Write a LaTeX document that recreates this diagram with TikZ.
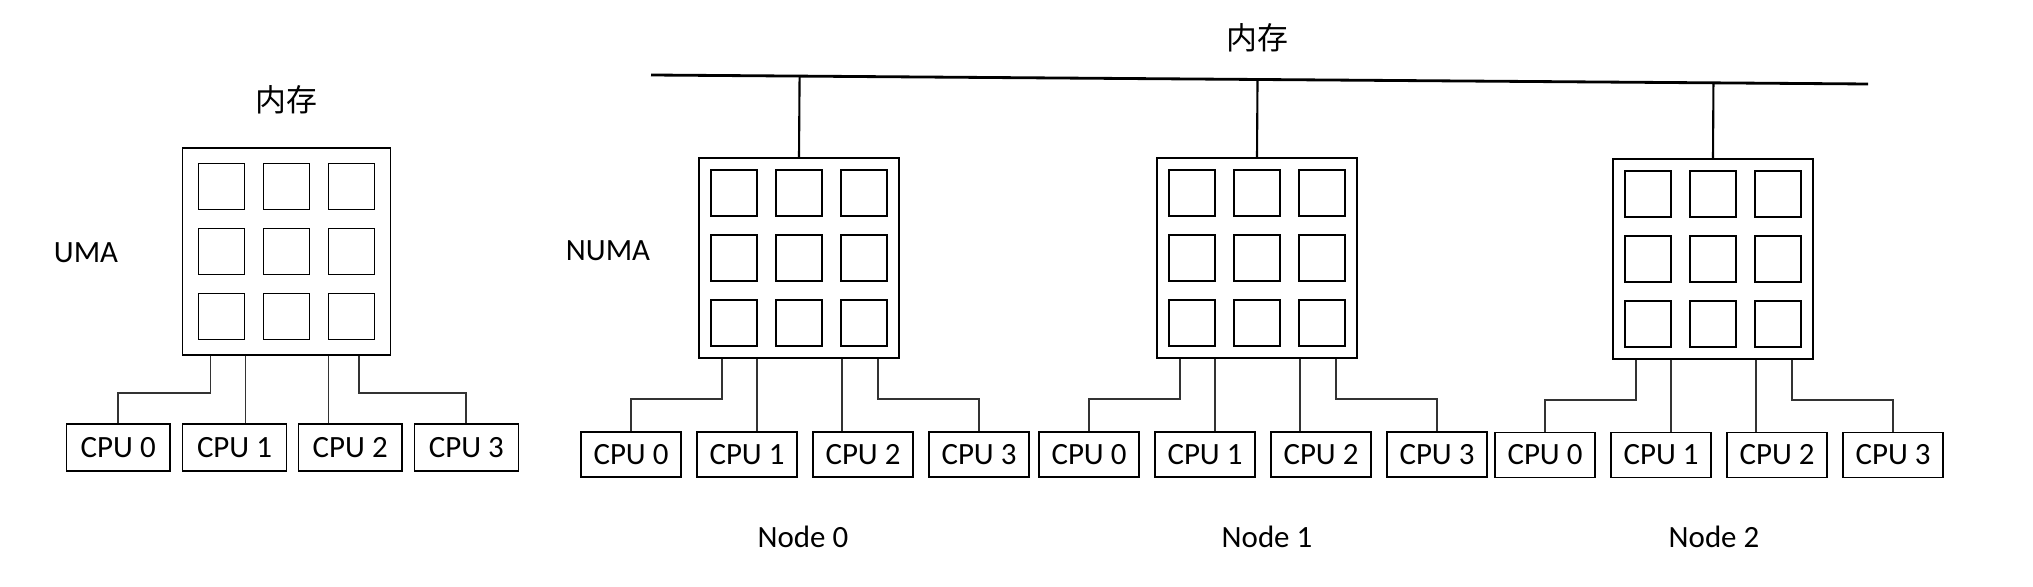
\documentclass[tikz,border=0pt]{standalone}
\usepackage{fontspec}
\setmainfont{Carlito}
\newfontfamily\cjkfont{Noto Sans CJK SC}
\usepackage{tikz}
\usetikzlibrary{calc}

\begin{document}
\begin{tikzpicture}[
  x=0.02cm, y=-0.02cm,
  font=\fontsize{17.6pt}{21pt}\selectfont,
  every node/.style={align=center},
  mem/.style={draw, minimum width=4cm, minimum height=4cm, inner sep=0pt, line width=0.8pt},
  cpu/.style={draw, minimum width=2cm, minimum height=0.9cm, inner sep=0pt, line width=0.8pt},
  cell/.style={draw, line width=0.8pt},
  link/.style={black!80, line width=1pt},
  drop/.style={black, line width=1.2pt},
  bus/.style={black, line width=1.6pt},
  zh/.style={font=\fontsize{17.6pt}{21pt}\selectfont\cjkfont},
]
\useasboundingbox (0,0) rectangle (2033,587);

%% --- Memory blocks ---
\node[mem, minimum width=4.16cm, minimum height=4.14cm] (uma) at (286.5,251.5) {};
\node[mem] (mem0) at ( 799,258) {};
\node[mem] (mem1) at (1257,258) {};
\node[mem] (mem2) at (1713,259) {};

%% --- 3x3 cells inside each block ---
\foreach \m in {uma, mem0, mem1, mem2}
  \foreach \i in {-1,0,1}
    \foreach \j in {-1,0,1}
      \draw[cell] ($(\m)+(\i*65-23,\j*65-23)$) rectangle ++(46,46);

%% --- UMA: CPUs ---
\node[cpu, minimum width=2.08cm, minimum height=0.94cm] (u0) at (118.2,447.5) {CPU 0};
\node[cpu, minimum width=2.08cm, minimum height=0.94cm] (u1) at (234.5,447.5) {CPU 1};
\node[cpu, minimum width=2.08cm, minimum height=0.94cm] (u2) at (350.2,447.5) {CPU 2};
\node[cpu, minimum width=2.08cm, minimum height=0.94cm] (u3) at (466.3,447.5) {CPU 3};

%% --- NUMA: CPUs of Node 0--2 ---
\node[cpu] (c00) at ( 631,454.5) {CPU 0};
\node[cpu] (c01) at ( 747,454.5) {CPU 1};
\node[cpu] (c02) at ( 863,454.5) {CPU 2};
\node[cpu] (c03) at ( 979,454.5) {CPU 3};
\node[cpu] (c10) at (1089,454.5) {CPU 0};
\node[cpu] (c11) at (1205,454.5) {CPU 1};
\node[cpu] (c12) at (1321,454.5) {CPU 2};
\node[cpu] (c13) at (1437,454.5) {CPU 3};
\node[cpu] (c20) at (1545,455) {CPU 0};
\node[cpu] (c21) at (1661,455) {CPU 1};
\node[cpu] (c22) at (1777,455) {CPU 2};
\node[cpu] (c23) at (1893,455) {CPU 3};

%% --- Links: memory -> CPUs ---
\draw[link] ($(uma.south)+(-76,0)$) -- ++(0,37) -| (u0.north);
\draw[link] ($(uma.south)+(-41,0)$) coordinate (k) -- (k |- u1.north);
\draw[link] ($(uma.south)+(42,0)$) coordinate (k) -- (k |- u2.north);
\draw[link] ($(uma.south)+(72.5,0)$) -- ++(0,37) -| (u3.north);

\foreach \n in {0,1,2} {
  \draw[link] ($(mem\n.south)+(-77,0)$) -- ++(0,40) -| (c\n0.north);
  \draw[link] ($(mem\n.south)+(-42,0)$) coordinate (k) -- (k |- c\n1.north);
  \draw[link] ($(mem\n.south)+(43,0)$) coordinate (k) -- (k |- c\n2.north);
  \draw[link] ($(mem\n.south)+(79,0)$) -- ++(0,40) -| (c\n3.north);
}

%% --- Shared bus ---
\coordinate (busL) at (651,75);
\coordinate (busR) at (1868,84);
\draw[bus] (busL) -- (busR);
\draw[drop] (mem0.north) -- ($(busL)!(mem0.north)!(busR)$);
\draw[drop] (mem1.north) -- ($(busL)!(mem1.north)!(busR)$);
\draw[drop] (mem2.north) -- ($(busL)!(mem2.north)!(busR)$);

%% --- Labels ---
\node[zh] (umamem) at (286,100) {内存};
\node[zh] (busmem) at (1257,38) {内存};
\node (umalbl)  at (86,253) {UMA};
\node (numalbl) at (608,251) {NUMA};
\node (node0) at ( 803,537) {Node 0};
\node (node1) at (1267,537) {Node 1};
\node (node2) at (1714,537) {Node 2};

\end{tikzpicture}
\end{document}
